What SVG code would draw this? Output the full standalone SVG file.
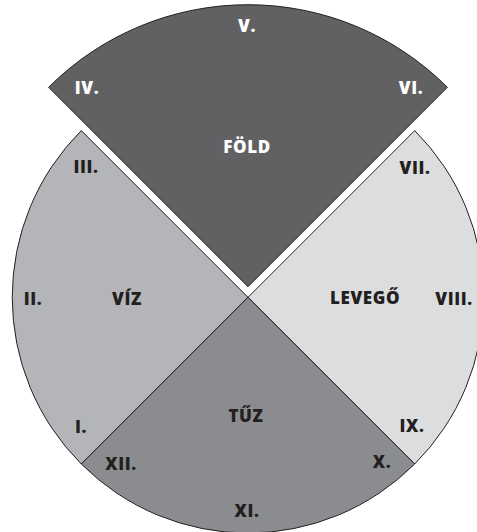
<svg xmlns="http://www.w3.org/2000/svg" width="477" height="532" viewBox="0 0 477 532">
<style>
.sec{stroke:#231f20;stroke-width:1;stroke-linejoin:miter}
.t{font-family:"Open Sans","DejaVu Sans",sans-serif;font-weight:800;font-size:17px;letter-spacing:0.6px;text-anchor:middle}
.w{fill:#ffffff}
.d{fill:#231f20}
</style>
<rect width="477" height="532" fill="#ffffff"/>
<g id="fold">
<path class="sec" fill="#616163" d="M248 286.7 L48.6 87.3 A282 282 0 0 1 447.4 87.3 Z"/>
<text class="t w" x="247" y="32">V.</text>
<text class="t w" x="87" y="94">IV.</text>
<text class="t w" x="411" y="94">VI.</text>
<text class="t w" x="247" y="153">FÖLD</text>
</g>
<g id="viz">
<path class="sec" fill="#b4b5b8" d="M248 297.3 L81.3 130.6 A235.7 235.7 0 0 0 81.3 464 Z"/>
<text class="t d" x="86" y="173">III.</text>
<text class="t d" x="33" y="305">II.</text>
<text class="t d" x="127" y="305">VÍZ</text>
<text class="t d" x="81" y="433">I.</text>
</g>
<g id="levego">
<path class="sec" fill="#dcdddf" d="M248 297.3 L414.7 130.6 A235.7 235.7 0 0 1 414.7 464 Z"/>
<text class="t d" x="415" y="174">VII.</text>
<text class="t d" x="365" y="304">LEVEGŐ</text>
<text class="t d" x="454" y="305">VIII.</text>
<text class="t d" x="412" y="432">IX.</text>
</g>
<g id="tuz">
<path class="sec" fill="#8b8c8f" d="M248 297.3 L81.3 464 A235.7 235.7 0 0 0 414.7 464 Z"/>
<text class="t d" x="246" y="422">TŰZ</text>
<text class="t d" x="121" y="470">XII.</text>
<text class="t d" x="382" y="468">X.</text>
<text class="t d" x="247" y="517">XI.</text>
</g>
<g id="connectors"></g>
</svg>
